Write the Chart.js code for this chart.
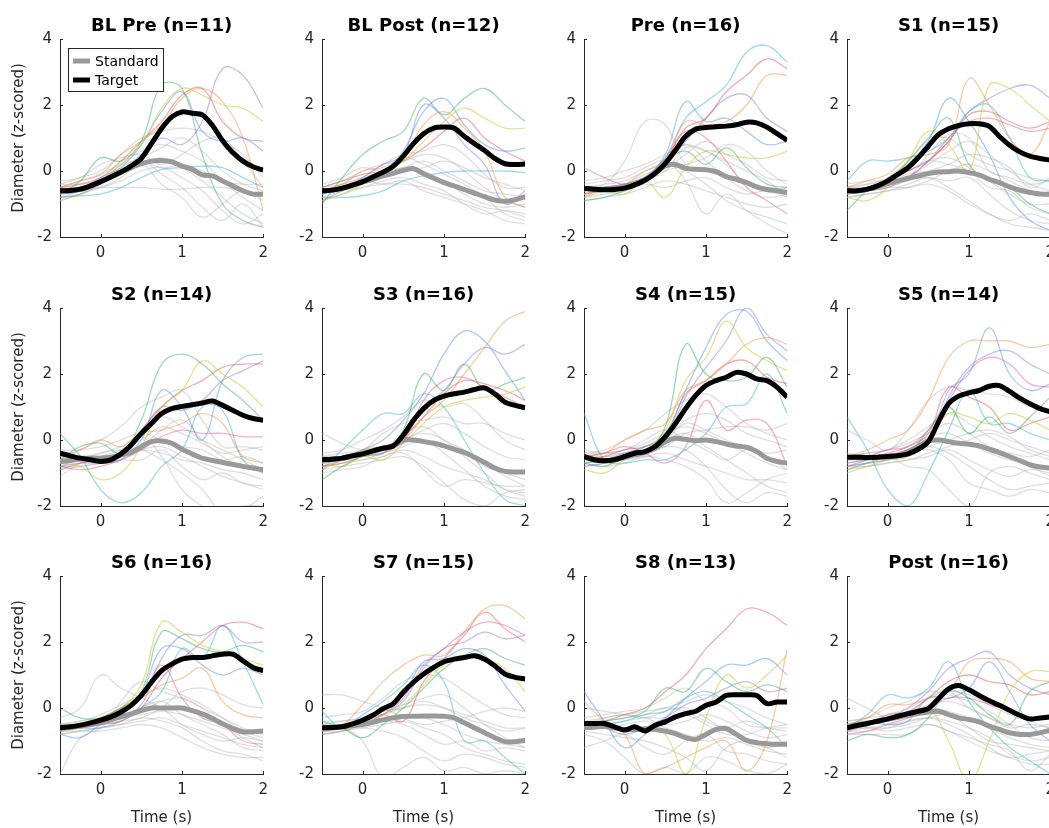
<!DOCTYPE html>
<html>
<head>
<meta charset="utf-8">
<script src="https://cdn.jsdelivr.net/npm/chart.js@4.4.1/dist/chart.umd.min.js"></script>
<style>
  html, body { margin: 0; padding: 0; background: #fff; overflow: hidden; }
  #wrap { position: relative; width: 1049px; height: 828px; overflow: hidden; }
  #wrap canvas { position: absolute; }
</style>
</head>
<body>
<div id="wrap"></div>
<script>
// time axes (s)
const meanTimes = [-0.5, -0.375, -0.25, -0.125, 0, 0.125, 0.25, 0.375, 0.5, 0.625, 0.75, 0.875, 1, 1.125, 1.25, 1.375, 1.5, 1.625, 1.75, 1.875, 2];
const trialTimes = [-0.5, -0.25, 0, 0.25, 0.5, 0.75, 1, 1.25, 1.5, 1.75, 2];
const xTickValues = [0, 1, 2];
const yTickValues = [-2, 0, 2, 4];

const panelTitles = ['BL Pre (n=11)', 'BL Post (n=12)', 'Pre (n=16)', 'S1 (n=15)', 'S2 (n=14)', 'S3 (n=16)',
  'S4 (n=15)', 'S5 (n=14)', 'S6 (n=16)', 'S7 (n=15)', 'S8 (n=13)', 'Post (n=16)'];

// grand means
const blPreTarget = [-0.6,-0.59,-0.55,-0.45,-0.32,-0.18,-0.03,0.15,0.38,0.83,1.29,1.64,1.79,1.75,1.7,1.38,0.92,0.56,0.3,0.13,0.03];
const blPreStandard = [-0.6,-0.59,-0.55,-0.45,-0.32,-0.18,-0.04,0.1,0.22,0.3,0.32,0.28,0.15,0.05,-0.12,-0.15,-0.3,-0.45,-0.6,-0.7,-0.7];
const blPostTarget = [-0.6,-0.58,-0.52,-0.43,-0.32,-0.18,-0.04,0.14,0.45,0.83,1.13,1.3,1.33,1.3,1.05,0.83,0.62,0.38,0.22,0.2,0.21];
const blPostStandard = [-0.6,-0.58,-0.52,-0.43,-0.33,-0.25,-0.15,-0.07,0.02,0.07,-0.08,-0.22,-0.35,-0.45,-0.56,-0.67,-0.78,-0.88,-0.92,-0.87,-0.78];
const preTarget = [-0.52,-0.55,-0.57,-0.56,-0.52,-0.42,-0.28,-0.07,0.23,0.63,1.05,1.27,1.32,1.34,1.36,1.4,1.48,1.46,1.33,1.13,0.93];
const preStandard = [-0.52,-0.55,-0.55,-0.52,-0.47,-0.38,-0.25,-0.07,0.15,0.2,0.08,0.05,0.04,-0.02,-0.17,-0.25,-0.35,-0.48,-0.56,-0.6,-0.65];
const s1Target = [-0.6,-0.6,-0.55,-0.45,-0.3,-0.1,0.1,0.4,0.75,1.1,1.28,1.38,1.43,1.43,1.35,1.05,0.78,0.58,0.45,0.38,0.33];
const s1Standard = [-0.6,-0.6,-0.55,-0.48,-0.38,-0.3,-0.22,-0.15,-0.08,-0.03,-0.02,0.0,-0.05,-0.12,-0.25,-0.35,-0.48,-0.58,-0.65,-0.7,-0.7];
const s2Target = [-0.4,-0.48,-0.55,-0.6,-0.65,-0.6,-0.42,-0.15,0.2,0.5,0.8,0.95,1.02,1.07,1.12,1.18,1.05,0.9,0.75,0.65,0.6];
const s2Standard = [-0.65,-0.62,-0.58,-0.55,-0.55,-0.52,-0.45,-0.38,-0.2,-0.05,-0.03,-0.1,-0.28,-0.42,-0.55,-0.62,-0.68,-0.74,-0.8,-0.85,-0.9];
const s3Target = [-0.6,-0.58,-0.55,-0.48,-0.42,-0.33,-0.25,-0.18,0.15,0.6,0.95,1.2,1.33,1.4,1.45,1.53,1.58,1.4,1.15,1.05,0.98];
const s3Standard = [-0.6,-0.58,-0.55,-0.48,-0.42,-0.35,-0.25,-0.18,0.0,0.0,-0.05,-0.1,-0.18,-0.28,-0.38,-0.52,-0.68,-0.85,-0.95,-0.97,-0.97];
const s4Target = [-0.5,-0.6,-0.63,-0.6,-0.5,-0.4,-0.35,-0.2,0.1,0.5,0.95,1.35,1.65,1.8,1.9,2.05,2.0,1.85,1.8,1.6,1.3];
const s4Standard = [-0.5,-0.6,-0.63,-0.6,-0.52,-0.45,-0.38,-0.25,-0.05,0.05,0.02,-0.02,0.0,-0.05,-0.12,-0.18,-0.22,-0.35,-0.55,-0.65,-0.7];
const s5Target = [-0.52,-0.52,-0.53,-0.52,-0.5,-0.48,-0.42,-0.28,-0.05,0.55,1.1,1.33,1.43,1.5,1.63,1.65,1.47,1.27,1.1,0.95,0.85];
const s5Standard = [-0.52,-0.52,-0.53,-0.52,-0.5,-0.45,-0.35,-0.2,-0.03,0.0,-0.05,-0.1,-0.13,-0.18,-0.28,-0.38,-0.5,-0.62,-0.75,-0.82,-0.85];
const s6Target = [-0.6,-0.57,-0.52,-0.45,-0.37,-0.27,-0.12,0.08,0.38,0.78,1.13,1.33,1.48,1.53,1.53,1.58,1.63,1.63,1.43,1.23,1.13];
const s6Standard = [-0.6,-0.58,-0.53,-0.48,-0.42,-0.35,-0.27,-0.18,-0.08,0.0,0.0,0.0,0.0,-0.08,-0.18,-0.32,-0.48,-0.62,-0.72,-0.72,-0.7];
const s7Target = [-0.6,-0.59,-0.57,-0.48,-0.37,-0.22,-0.02,0.13,0.48,0.78,1.03,1.23,1.4,1.48,1.53,1.58,1.48,1.28,1.03,0.93,0.88];
const s7Standard = [-0.6,-0.6,-0.57,-0.53,-0.5,-0.43,-0.36,-0.3,-0.26,-0.25,-0.24,-0.24,-0.25,-0.3,-0.45,-0.6,-0.75,-0.9,-1.02,-1.02,-0.98];
const s8Target = [-0.47,-0.47,-0.47,-0.57,-0.67,-0.57,-0.7,-0.52,-0.42,-0.27,-0.17,-0.1,0.08,0.18,0.38,0.4,0.4,0.38,0.13,0.18,0.18];
const s8Standard = [-0.6,-0.58,-0.55,-0.6,-0.65,-0.65,-0.63,-0.65,-0.7,-0.78,-0.9,-0.95,-0.8,-0.65,-0.62,-0.8,-0.98,-1.05,-1.08,-1.1,-1.1];
const postTarget = [-0.6,-0.53,-0.47,-0.4,-0.33,-0.25,-0.17,-0.1,-0.02,0.28,0.58,0.68,0.55,0.38,0.22,0.08,-0.07,-0.22,-0.33,-0.3,-0.27];
const postStandard = [-0.6,-0.53,-0.47,-0.4,-0.34,-0.28,-0.22,-0.17,-0.12,-0.1,-0.2,-0.3,-0.35,-0.42,-0.55,-0.65,-0.75,-0.8,-0.8,-0.75,-0.68];

// single subject traces (target = coloured, standard = grey)
const blPreTargetTrials = [
  [-0.7,-0.3,0.4,0.3,0.9,2.6,2.5,0.5,-1.0,-1.5,-1.7],
  [-0.9,-0.7,-0.3,0.2,0.8,1.9,2.5,2.3,2.0,1.9,1.5],
  [-0.5,-0.3,-0.1,0.5,0.9,1.4,2.2,2.5,2.1,1.0,-1.2],
  [-0.7,-0.6,-0.2,0.1,0.8,1.8,2.4,1.2,0.9,1.0,0.6],
  [-0.5,-0.4,-0.2,0.3,0.9,1.5,2.3,2.5,1.5,1.0,0.9],
  [-0.8,-0.7,-0.4,0.0,0.5,1.0,0.8,1.5,3.1,2.9,1.9],
  [-0.8,-0.75,-0.7,-0.5,-0.2,0.05,0.1,0.15,0.1,-0.2,-0.5]
];
const blPreStandardTrials = [
  [-0.4,-0.2,0.0,0.5,1.0,1.2,1.3,1.2,0.9,0.5,-0.2],
  [-0.6,-0.5,-0.3,0.1,0.3,-0.1,-0.5,-1.1,-1.5,-1.0,-1.7],
  [-0.5,-0.5,-0.5,-0.5,-0.5,-0.55,-0.55,-0.5,-0.5,-0.6,-0.7],
  [-0.8,-0.6,-0.3,0.2,0.6,0.8,0.6,0.3,-0.3,-0.8,-1.2],
  [-0.3,-0.2,0.2,0.4,0.5,0.2,0.5,0.9,1.0,0.3,-0.5],
  [-0.9,-0.7,-0.5,-0.2,0.2,-0.4,-0.8,-1.4,-1.0,-0.6,-0.9],
  [-0.7,-0.6,-0.4,-0.1,0.2,0.4,0.1,-0.3,-0.8,-1.3,-1.6],
  [-0.4,-0.4,-0.3,0.0,0.4,0.7,1.0,0.6,0.0,-0.4,-0.6],
  [-0.6,-0.6,-0.5,-0.3,0.0,0.1,-0.2,-0.6,-1.2,-1.6,-1.3],
  [-0.5,-0.3,-0.1,0.2,0.3,0.1,0.2,0.0,-0.3,-0.4,-0.4]
];
const blPostTargetTrials = [
  [-1.0,-0.2,0.5,0.9,1.2,2.2,1.7,2.2,2.5,2.0,1.5],
  [-0.9,-0.7,-0.4,-0.1,0.3,0.9,1.5,1.9,1.6,1.3,1.3],
  [-0.6,-0.4,0.0,0.1,0.4,1.4,1.8,1.3,0.6,-0.8,-1.1],
  [-0.7,-0.5,-0.3,0.0,0.6,1.8,2.2,1.4,0.8,0.6,0.7],
  [-0.5,-0.3,-0.1,0.0,0.3,0.7,1.2,1.6,1.0,0.6,0.3],
  [-0.9,-0.6,-0.2,0.2,0.5,2.0,1.6,0.8,0.2,-1.0,-0.6],
  [-0.8,-0.8,-0.75,-0.6,-0.3,-0.15,-0.05,0.0,0.0,0.0,-0.05]
];
const blPostStandardTrials = [
  [-0.5,-0.3,0.0,0.2,0.3,0.5,0.4,0.0,-0.5,-0.9,-1.1],
  [-0.7,-0.5,-0.3,-0.4,-0.3,-0.6,-0.8,-1.0,-1.2,-1.5,-1.6],
  [-0.4,-0.2,0.1,0.0,0.1,0.3,0.0,-0.3,-0.6,-0.7,-0.8],
  [-0.9,-0.7,-0.5,-0.3,-0.2,-0.4,-0.6,-1.0,-1.3,-1.2,-1.3],
  [-0.6,-0.4,-0.2,0.2,0.5,0.6,0.8,0.5,-0.1,-0.5,-0.5],
  [-0.8,-0.6,-0.4,-0.1,0.1,0.0,-0.3,-0.7,-1.0,-1.1,-1.0],
  [-0.5,-0.4,-0.2,0.0,0.4,0.2,-0.1,-0.4,-0.8,-1.3,-1.5],
  [-0.6,-0.5,-0.4,-0.2,0.0,0.1,0.3,0.1,-0.2,-0.4,-0.6],
  [-0.7,-0.6,-0.5,-0.4,-0.4,-0.5,-0.7,-0.9,-1.1,-1.2,-1.4]
];
const preTargetTrials = [
  [-0.9,-0.8,-0.6,-0.3,0.3,0.6,0.2,0.7,0.1,-0.4,-0.5],
  [-0.7,-0.6,-0.7,-0.3,-0.8,0.1,0.6,0.5,0.4,0.4,0.6],
  [-0.8,-0.5,-0.4,0.0,0.3,1.5,1.4,1.5,2.0,2.9,2.9],
  [-0.7,-0.5,-0.4,-0.2,0.5,2.1,1.5,1.6,1.2,0.8,0.9],
  [-0.7,-0.6,-0.5,-0.2,0.3,1.3,1.6,2.4,2.9,3.4,3.1],
  [-0.6,-0.6,-0.5,-0.3,0.2,0.9,1.6,2.2,2.3,1.6,1.2],
  [-0.6,-0.5,-0.4,-0.2,0.4,1.6,2.1,2.6,3.6,3.8,3.3],
  [0.1,-0.2,-0.4,-0.2,0.4,1.2,1.0,0.3,-0.5,-0.9,-1.3]
];
const preStandardTrials = [
  [-0.6,-0.4,0.3,1.5,1.4,0.2,0.0,-0.2,-0.4,-0.5,-0.6],
  [-0.8,-0.6,-0.5,-0.3,0.0,0.7,0.6,0.3,0.0,-0.3,-0.8],
  [-0.4,-0.3,-0.2,0.1,0.3,-0.3,-1.3,-0.7,-1.2,-1.6,-1.9],
  [-0.6,-0.5,-0.4,-0.2,0.0,0.2,0.4,0.8,0.6,0.0,-0.4],
  [-0.9,-0.8,-0.7,-0.5,-0.3,-0.4,-0.6,-0.8,-1.0,-1.1,-1.0],
  [-0.3,-0.2,0.0,0.2,0.5,0.8,0.6,0.2,-0.4,-0.6,-0.5],
  [-0.7,-0.6,-0.5,-0.3,0.3,0.8,0.3,-0.2,-0.6,-0.8,-0.7],
  [-0.5,-0.4,-0.3,0.0,0.2,0.0,-0.4,-0.9,-1.2,-1.4,-1.6],
  [-0.6,-0.5,-0.4,-0.1,0.1,0.5,0.9,0.5,0.2,-0.2,-0.3],
  [-0.8,-0.7,-0.6,-0.4,-0.5,-0.3,-0.2,-0.5,-0.7,-0.6,-0.8]
];
const s1TargetTrials = [
  [-1.2,-0.6,-0.3,0.3,1.0,1.6,0.2,-0.3,-0.5,-1.0,-1.3],
  [-0.8,-0.9,-0.5,0.3,1.2,0.8,0.0,2.6,2.5,2.0,1.5],
  [-0.5,-0.3,-0.1,0.4,0.5,0.8,2.8,2.0,1.0,0.5,1.5],
  [-0.6,-0.5,-0.3,0.2,0.9,2.2,1.5,0.5,-0.8,-1.5,-1.8],
  [-0.6,-0.5,-0.3,0.0,0.3,0.9,1.7,1.8,1.5,1.3,1.5],
  [-0.7,-0.6,-0.4,-0.2,0.3,0.9,1.8,2.2,2.5,2.6,2.2],
  [-0.3,0.3,0.3,0.4,0.6,1.0,1.8,2.0,1.0,-0.2,-0.3],
  [-0.6,-0.6,-0.5,-0.2,0.3,1.0,1.5,1.6,1.4,1.2,1.3]
];
const s1StandardTrials = [
  [-0.5,-0.4,-0.2,0.3,0.9,1.0,0.5,0.2,0.0,-0.2,-0.3],
  [-0.6,-0.6,-0.5,-0.5,-0.4,-0.6,-1.0,-1.3,-1.6,-1.7,-1.8],
  [-0.7,-0.5,-0.3,0.0,0.3,0.2,0.0,-0.5,-0.6,-1.1,-1.3],
  [-0.4,-0.3,-0.3,-0.1,0.0,0.2,0.5,0.4,0.1,-0.5,-0.2],
  [-0.8,-0.7,-0.6,-0.4,-0.2,-0.3,-0.2,-0.7,-1.2,-1.5,-1.6],
  [-0.5,-0.5,-0.4,-0.2,0.5,1.1,1.0,0.0,-0.2,-0.4,-0.3],
  [-0.6,-0.5,-0.4,-0.2,0.2,0.6,0.9,0.5,0.0,-0.4,-0.6],
  [-0.7,-0.6,-0.5,-0.3,-0.2,-0.5,-0.9,-1.3,-1.5,-1.3,-1.5],
  [-0.5,-0.4,-0.3,0.0,0.3,0.4,0.1,-0.3,-0.7,-1.0,-1.0],
  [-0.8,-0.7,-0.6,-0.5,-0.3,0.0,0.2,0.0,-0.3,-0.6,-0.8]
];
const s2TargetTrials = [
  [-0.6,-0.2,-0.1,-0.4,0.6,2.3,2.6,2.3,1.7,1.2,0.6],
  [-0.7,-0.8,-1.2,-1.0,-0.2,1.0,1.5,2.4,2.0,1.6,1.0],
  [-0.5,-0.3,0.0,-0.2,0.2,0.3,0.5,0.8,0.5,-0.5,-0.7],
  [-0.8,-0.6,-0.7,-0.5,0.0,1.5,1.0,0.0,1.8,2.5,2.6],
  [-0.9,-0.7,-0.6,-0.4,0.3,1.0,1.5,1.8,2.2,2.3,2.3],
  [-0.8,-0.7,-0.7,-0.6,0.2,1.0,0.9,1.2,1.8,2.1,2.4],
  [0.2,-0.5,-1.5,-1.9,-1.6,-0.8,-0.3,1.0,0.9,-0.6,-1.0],
  [-0.8,-0.9,-0.8,-0.6,-0.3,0.1,0.3,0.2,0.2,0.1,0.1]
];
const s2StandardTrials = [
  [-0.6,-0.3,0.0,0.4,1.0,1.3,1.5,0.6,-0.2,-0.2,-0.3],
  [-1.1,-0.7,-0.4,-0.3,-0.3,-0.6,-1.0,-1.5,-2.2,-2.1,-1.7],
  [-0.8,-0.8,-0.7,-0.6,-0.6,-0.3,-0.8,-1.2,-1.0,-1.3,-1.4],
  [-0.3,-0.3,-0.2,0.0,0.2,0.0,-0.2,-0.3,-0.6,-0.5,-0.7],
  [-0.5,-0.5,-0.4,-0.2,0.1,-0.5,-1.5,-2.0,-2.2,-2.0,-2.0],
  [-0.6,-0.6,-0.5,-0.3,0.0,0.4,0.2,-0.1,-0.4,-0.3,-0.2],
  [-0.7,-0.6,-0.6,-0.5,-0.2,0.3,0.6,0.0,-0.5,-0.8,-1.0],
  [-0.4,-0.5,-0.6,-0.6,-0.3,-0.2,-0.5,-0.8,-1.1,-1.3,-1.5],
  [-0.9,-0.8,-0.7,-0.5,0.3,0.7,0.4,0.0,-0.3,-0.6,-0.9],
  [-0.6,-0.5,-0.5,-0.4,-0.3,-0.4,-0.6,-0.7,-0.9,-1.0,-1.2]
];
const s3TargetTrials = [
  [-1.2,-0.8,-0.5,-0.4,0.3,2.0,1.5,2.3,1.5,1.7,1.9],
  [-0.7,-0.8,-0.5,-0.6,-0.1,0.5,1.0,1.2,1.3,1.4,1.6],
  [-0.9,-0.6,-0.3,-0.2,0.0,0.7,1.2,2.0,2.8,3.6,3.9],
  [-0.8,-0.6,-0.3,0.0,0.6,1.4,2.6,3.3,3.0,2.1,1.2],
  [-0.8,-0.7,-0.5,-0.3,0.1,0.7,1.4,1.8,1.7,1.5,1.2],
  [-0.7,-0.6,-0.4,-0.3,0.0,1.0,1.5,2.3,2.8,2.6,2.9],
  [-0.9,-0.3,0.3,0.8,0.8,1.4,1.0,0.0,-1.0,-1.8,-2.0],
  [-0.6,-0.5,-0.4,-0.4,0.0,1.2,1.8,1.9,1.6,1.3,1.0]
];
const s3StandardTrials = [
  [0.2,-0.1,-0.3,-0.2,0.0,0.2,0.0,-0.5,-1.0,-1.5,-1.7],
  [-0.9,-0.8,-0.7,-0.6,-0.5,-0.8,-1.3,-1.8,-2.0,-1.6,-1.5],
  [-0.5,-0.4,-0.3,0.2,0.5,0.6,0.7,0.5,0.5,0.2,0.0],
  [-0.7,-0.6,-0.5,-0.4,-0.2,0.0,-0.2,-0.4,-0.8,-1.0,-1.2],
  [-0.4,-0.3,0.0,0.3,0.7,1.2,1.0,1.1,0.6,0.0,-0.3],
  [-1.0,-0.9,-0.8,-0.5,-0.4,-0.9,-1.4,-1.2,-1.3,-1.4,-1.4],
  [-0.6,-0.5,-0.4,-0.3,0.2,0.4,0.0,-0.3,-0.7,-1.1,-1.4],
  [-0.8,-0.7,-0.6,-0.4,-0.1,0.0,-0.4,-0.9,-1.4,-1.7,-1.8],
  [-0.5,-0.5,-0.4,-0.2,0.0,0.3,0.5,0.2,-0.2,-0.5,-0.6],
  [-0.7,-0.6,-0.6,-0.5,-0.3,-0.5,-0.8,-1.0,-1.2,-1.5,-1.6]
];
const s4TargetTrials = [
  [-0.7,-0.8,-0.5,-0.4,0.4,2.9,2.0,1.8,1.9,2.5,1.6],
  [-0.9,-1.0,-0.6,-0.3,0.3,1.8,2.5,3.6,2.8,2.4,2.1],
  [-0.5,-0.4,0.0,0.3,0.5,1.5,1.8,2.3,2.9,3.1,2.9],
  [-0.7,-0.6,-0.4,-0.2,0.2,1.5,2.8,3.8,3.9,3.0,2.4],
  [-0.6,-0.5,-0.3,-0.2,0.1,1.4,1.8,2.3,2.4,1.9,1.7],
  [-0.8,-0.7,-0.5,-0.3,0.0,1.3,2.2,3.0,4.0,3.2,2.7],
  [0.8,-0.6,-0.7,-0.6,-0.6,-0.3,0.2,1.0,1.1,2.0,0.8],
  [-0.5,-0.4,-0.2,-0.4,-0.7,-0.2,1.2,0.3,0.6,0.5,-0.8]
];
const s4StandardTrials = [
  [-0.4,-0.3,0.0,0.3,0.8,1.2,1.4,1.0,0.5,0.2,0.0],
  [-0.7,-0.6,-0.5,-0.4,-0.2,-0.3,-0.8,-1.5,-1.9,-1.6,-1.7],
  [-0.6,-0.5,-0.5,-0.4,-0.2,0.2,0.3,0.4,0.4,0.3,0.5],
  [-0.8,-0.7,-0.6,-0.5,-0.4,-0.6,-0.8,-1.0,-1.2,-1.2,-1.3],
  [-0.5,-0.4,-0.3,0.0,0.3,0.0,-0.3,-0.6,-0.3,-0.5,-0.9],
  [-0.3,-0.4,-0.4,-0.3,0.0,0.5,0.3,0.0,-0.2,-0.4,-0.3],
  [-0.6,-0.6,-0.5,-0.3,0.0,0.2,-0.2,-0.6,-1.0,-1.4,-1.6],
  [-0.5,-0.5,-0.4,-0.2,0.1,0.6,0.8,0.6,0.2,0.0,-0.2],
  [-0.7,-0.8,-0.7,-0.5,-0.6,-0.8,-1.2,-1.9,-1.6,-1.2,-1.0],
  [-0.4,-0.4,-0.3,-0.1,0.2,0.4,0.2,-0.1,-0.4,-0.7,-0.9]
];
const s5TargetTrials = [
  [-0.9,-0.7,-0.5,-0.4,0.3,1.0,0.2,0.7,0.2,0.7,1.3],
  [-1.0,-0.8,-0.6,-0.5,0.0,0.8,0.7,0.5,0.8,0.6,0.3],
  [-0.5,-0.3,0.0,0.3,1.2,2.5,3.0,3.0,3.0,2.8,2.9],
  [-0.7,-0.6,-0.5,-0.4,-0.1,1.5,2.0,3.4,2.0,1.5,1.7],
  [-0.8,-0.6,-0.4,-0.2,0.2,1.6,1.3,1.0,0.3,0.5,0.7],
  [-0.8,-0.7,-0.6,-0.4,0.0,1.3,2.2,2.6,2.7,2.3,2.0],
  [0.7,-0.3,-1.5,-2.0,-1.0,0.3,1.5,0.5,0.5,0.2,0.0],
  [-0.6,-0.5,-0.3,-0.2,0.3,1.2,2.1,2.5,2.3,1.7,1.6]
];
const s5StandardTrials = [
  [0.3,0.0,-0.3,0.3,1.2,1.6,1.5,1.4,1.3,1.0,0.9],
  [-0.6,-0.5,-0.6,-0.4,-0.3,-0.6,-1.3,-1.5,-1.7,-1.5,-1.6],
  [-0.4,-0.5,-0.5,-0.8,-0.9,-1.5,-2.0,-1.0,-0.8,-1.0,-1.2],
  [-0.8,-0.7,-0.6,-0.5,-0.2,0.0,0.2,0.3,0.1,-0.3,-0.5],
  [-0.5,-0.4,-0.3,-0.1,0.2,0.5,0.2,-0.2,-0.4,-0.5,-0.3],
  [-0.9,-0.8,-0.7,-0.6,-0.5,-0.3,-0.6,-0.9,-1.1,-0.9,-1.0],
  [-0.6,-0.6,-0.5,-0.3,0.1,0.2,-0.1,-0.4,-0.6,-0.8,-1.1],
  [-0.7,-0.6,-0.5,-0.4,-0.2,-0.4,-0.8,-1.2,-1.5,-1.4,-1.3],
  [-0.5,-0.4,-0.3,0.0,0.4,0.8,0.5,0.1,-0.2,-0.4,-0.6],
  [-0.8,-0.8,-0.7,-0.6,-0.4,-0.2,0.0,0.2,0.0,-0.2,-0.4]
];
const s6TargetTrials = [
  [0.0,-0.3,-0.3,0.0,0.5,2.3,2.1,1.8,1.7,1.9,1.7],
  [-0.7,-0.6,-0.3,0.0,0.7,2.6,2.3,1.9,1.7,1.5,1.3],
  [-0.6,-0.5,-0.3,0.0,0.3,0.7,0.9,1.2,0.2,-0.2,-0.3],
  [-0.8,-0.9,-0.5,-0.2,0.4,1.8,1.8,1.3,1.0,1.2,1.0],
  [-0.7,-0.6,-0.5,-0.4,0.0,0.9,1.5,2.0,2.5,2.6,2.4],
  [-0.6,-0.6,-0.5,-0.3,0.1,1.5,2.2,2.2,2.5,2.0,2.0],
  [-0.5,-0.6,-0.6,-0.4,0.0,0.5,1.8,1.5,2.5,1.4,0.1],
  [-0.6,-0.5,-0.3,0.0,0.3,1.3,0.3,-0.3,-0.5,-1.0,-1.1]
];
const s6StandardTrials = [
  [-0.3,0.0,1.0,0.6,0.3,0.0,-0.5,-0.8,-1.0,-0.9,-1.0],
  [-2.0,-0.9,-0.6,0.2,0.8,0.5,0.3,0.0,-0.3,-0.6,-0.8],
  [-0.6,-0.5,-0.5,-0.4,-0.3,0.0,0.5,0.6,0.4,0.1,0.0],
  [-0.8,-0.7,-0.7,-0.6,-0.5,-0.6,-0.9,-1.2,-1.4,-1.5,-1.5],
  [-0.5,-0.4,-0.3,-0.2,0.0,0.2,-0.2,-0.5,-0.8,-1.2,-1.3],
  [-0.7,-0.7,-0.6,-0.5,-0.4,-0.3,-0.5,-0.7,-0.9,-1.1,-1.2],
  [-0.6,-0.6,-0.5,-0.3,-0.1,0.2,0.3,0.0,-0.5,-0.9,-1.2],
  [-0.8,-0.7,-0.6,-0.5,-0.3,-0.4,-0.6,-1.0,-1.3,-1.4,-1.6],
  [-0.5,-0.4,-0.2,0.1,0.4,0.6,0.4,0.1,-0.3,-0.7,-0.9],
  [-0.7,-0.6,-0.5,-0.3,-0.2,-0.1,-0.2,-0.4,-0.6,-0.8,-1.0]
];
const s7TargetTrials = [
  [-0.4,-0.6,-0.9,-0.5,0.0,0.6,1.2,1.6,1.8,1.5,1.3],
  [-0.7,-0.7,-0.5,-0.2,0.1,0.7,1.3,1.6,1.5,1.2,0.5],
  [-0.6,-0.5,0.1,0.8,1.3,1.6,1.6,2.3,3.0,3.1,2.7],
  [-0.6,-0.5,-0.4,-0.1,0.4,1.4,1.5,1.8,1.6,0.7,-0.1],
  [-0.7,-0.6,-0.4,-0.2,-0.4,0.8,1.5,2.2,2.9,2.4,2.0],
  [-0.8,-0.7,-0.5,-0.2,0.2,1.2,1.8,2.0,2.3,2.1,2.2],
  [-0.1,-0.6,-0.2,0.2,0.7,1.3,0.8,-1.0,-1.0,-1.5,-2.0],
  [-0.7,-0.6,-0.5,-0.2,0.3,1.3,1.8,2.3,2.6,2.5,2.2]
];
const s7StandardTrials = [
  [0.4,0.4,0.2,0.0,-0.3,-0.5,-0.4,-0.3,-0.1,0.0,-0.1],
  [-0.6,-0.6,-1.0,-2.1,-1.8,-1.5,-1.9,-1.8,-2.0,-1.9,-2.0],
  [-0.3,-0.2,-0.1,0.3,0.8,1.0,0.9,0.5,0.1,-0.2,-0.3],
  [-0.8,-0.7,-0.6,-0.5,-0.4,-0.6,-0.8,-1.2,-1.4,-1.6,-1.7],
  [-0.5,-0.5,-0.4,-0.2,0.0,0.1,0.0,-0.2,-0.4,-0.6,-0.6],
  [-0.6,-0.5,-0.5,-0.4,-0.5,-0.8,-1.1,-1.0,-1.3,-1.2,-1.3],
  [-0.5,-0.4,-0.3,-0.1,0.1,0.3,0.4,0.0,-0.5,-0.9,-1.2],
  [-0.7,-0.6,-0.5,-0.4,-0.3,-0.3,-0.5,-0.8,-1.0,-1.1,-1.2],
  [-0.6,-0.6,-0.6,-0.7,-0.9,-1.3,-1.6,-1.4,-1.5,-1.7,-1.8],
  [-0.4,-0.4,-0.3,-0.1,0.0,0.2,0.0,-0.3,-0.5,-0.7,-0.6]
];
const s8TargetTrials = [
  [-0.6,-0.4,-0.3,-0.1,0.6,0.5,1.2,0.8,0.5,0.7,0.5],
  [-0.5,-0.6,-0.7,-0.6,-0.8,-2.0,-0.3,1.0,0.6,1.0,1.6],
  [0.2,-0.4,-0.8,-2.0,-1.8,-1.5,-1.2,-1.0,-1.9,-1.0,1.8],
  [0.5,-0.4,-1.2,-0.8,-0.3,0.3,0.8,1.3,1.3,1.5,1.0],
  [-0.5,-0.4,-0.2,0.0,0.5,1.0,1.8,2.4,3.0,2.9,2.5],
  [-0.4,-0.6,-0.8,-0.6,-0.3,0.1,0.3,0.6,0.8,0.5,0.6],
  [-0.6,-0.5,-0.4,-0.2,-0.1,0.3,0.5,0.2,-0.2,-0.6,-1.2]
];
const s8StandardTrials = [
  [-0.5,-0.3,-0.2,-0.1,0.0,0.2,0.4,0.2,0.0,-0.3,-0.5],
  [-1.2,-1.0,-0.8,-1.2,-1.4,-1.0,-0.8,-1.3,-1.4,-1.6,-1.7],
  [-0.3,-0.2,-0.1,0.0,0.3,0.6,0.2,0.0,-0.5,-0.6,-0.6],
  [-0.8,-1.0,-1.5,-2.0,-1.8,-2.0,-1.5,-1.6,-1.9,-2.0,-1.7],
  [-0.6,-0.5,-0.4,-0.3,-0.3,-0.2,-0.5,-0.8,-0.8,-0.6,-0.5],
  [0.0,-0.1,-0.2,-0.3,-0.1,0.0,-0.3,-0.7,-1.0,-1.2,-1.0],
  [-0.6,-0.6,-0.5,-0.4,-0.6,-0.8,-1.0,-0.9,-1.1,-1.3,-1.4],
  [-0.4,-0.3,-0.2,-0.3,-0.5,-0.4,-0.2,-0.4,-0.7,-0.9,-0.8],
  [-0.7,-0.8,-0.9,-1.0,-1.2,-1.5,-1.9,-1.2,-1.0,-1.2,-1.5],
  [-0.5,-0.4,-0.3,-0.2,0.0,-0.1,-0.4,-0.6,-0.4,-0.6,-0.7]
];
const postTargetTrials = [
  [-1.0,-0.8,-0.9,-0.8,-0.3,0.5,0.3,-0.2,-0.5,0.5,0.8],
  [-0.6,-0.5,-0.3,-0.2,0.0,-1.0,-2.2,-1.0,0.5,1.1,1.1],
  [-0.5,-0.3,0.1,0.1,0.3,0.5,1.4,1.5,1.4,0.9,0.8],
  [-0.5,-0.4,-0.5,-0.4,0.3,0.3,0.6,1.4,0.5,-0.5,-1.0],
  [-0.6,-0.5,-0.2,-0.1,0.3,0.8,1.0,0.8,0.7,0.4,0.5],
  [-0.7,-0.5,-0.3,0.0,0.5,1.2,1.5,1.7,1.0,0.6,0.4],
  [-0.6,-0.2,0.4,0.3,0.6,1.4,0.2,-0.6,-1.2,-1.6,-2.0],
  [-0.8,-0.7,-0.5,-0.3,0.0,0.3,0.3,0.1,-0.1,-0.3,-0.2]
];
const postStandardTrials = [
  [0.3,0.0,-0.3,-0.2,0.3,0.5,0.0,-0.3,-0.5,-0.6,-0.5],
  [-0.6,-0.6,-0.7,-0.6,-0.5,-0.7,-1.0,-1.3,-1.5,-1.7,-1.7],
  [-0.4,-0.3,0.0,0.2,0.5,0.4,0.2,-0.1,-0.5,-0.9,-1.0],
  [-0.8,-0.8,-0.8,-0.8,-0.5,-0.7,-0.9,-1.1,-1.3,-1.9,-1.4],
  [-0.5,-0.4,-0.3,-0.2,0.1,0.2,0.0,-0.3,-0.6,-0.5,-0.6],
  [-0.7,-0.6,-0.6,-0.4,-0.3,-0.2,-0.6,-1.0,-1.1,-1.2,-1.3],
  [-0.5,-0.5,-0.4,-0.2,0.0,-0.1,-0.3,-0.6,-0.9,-1.1,-1.2],
  [-0.7,-0.7,-0.6,-0.5,-0.3,-0.4,-0.6,-0.9,-1.4,-1.6,-1.5],
  [-0.4,-0.3,-0.2,0.0,0.3,0.5,0.4,0.1,-0.2,-0.4,-0.6],
  [-0.6,-0.6,-0.5,-0.4,-0.3,-0.5,-0.8,-1.2,-1.5,-1.4,-1.3]
];

const panels = [
  [blPreTarget, blPreStandard, blPreTargetTrials, blPreStandardTrials],
  [blPostTarget, blPostStandard, blPostTargetTrials, blPostStandardTrials],
  [preTarget, preStandard, preTargetTrials, preStandardTrials],
  [s1Target, s1Standard, s1TargetTrials, s1StandardTrials],
  [s2Target, s2Standard, s2TargetTrials, s2StandardTrials],
  [s3Target, s3Standard, s3TargetTrials, s3StandardTrials],
  [s4Target, s4Standard, s4TargetTrials, s4StandardTrials],
  [s5Target, s5Standard, s5TargetTrials, s5StandardTrials],
  [s6Target, s6Standard, s6TargetTrials, s6StandardTrials],
  [s7Target, s7Standard, s7TargetTrials, s7StandardTrials],
  [s8Target, s8Standard, s8TargetTrials, s8StandardTrials],
  [postTarget, postStandard, postTargetTrials, postStandardTrials]
];

// trace colours in the order the trials are listed
const trialColors = ['rgba(40,170,90,0.45)', 'rgba(200,200,40,0.5)', 'rgba(240,140,50,0.45)', 'rgba(70,140,230,0.45)',
  'rgba(230,70,80,0.45)', 'rgba(130,110,230,0.45)', 'rgba(40,175,210,0.45)', 'rgba(230,80,150,0.45)'];
const greyTrialColor = 'rgba(175,175,175,0.4)';
const axisColor = '#262626';

Chart.defaults.font.family = '"DejaVu Sans", sans-serif';
Chart.defaults.font.size = 15;
Chart.defaults.color = axisColor;

const colLeft = [0, 262, 524, 787];
const rowTop = [0, 269, 537];
const rowHeight = [269, 268, 291];
const plotTop = 39, plotHeight = 198, canvasWidth = 275;

const toPoints = (times, values) => values.map((y, i) => ({ x: times[i], y }));

// titles, inward tick marks and the legend box (MATLAB look)
const panelDecor = {
  id: 'panelDecor',
  afterDatasetsDraw(chart, args, opts) {
    const { ctx, chartArea } = chart;
    const xs = chart.scales.x, ys = chart.scales.y;
    ctx.save();
    ctx.strokeStyle = axisColor;
    ctx.lineWidth = 1;
    ctx.beginPath();
    xTickValues.forEach(v => {
      const px = Math.round(xs.getPixelForValue(v)) + 0.5;
      ctx.moveTo(px, chartArea.bottom);
      ctx.lineTo(px, chartArea.bottom - 3);
    });
    yTickValues.forEach(v => {
      const py = Math.round(ys.getPixelForValue(v)) + 0.5;
      ctx.moveTo(chartArea.left, py);
      ctx.lineTo(chartArea.left + 3, py);
    });
    ctx.stroke();

    ctx.fillStyle = '#000';
    ctx.font = 'bold 18px "DejaVu Sans", sans-serif';
    ctx.textAlign = 'center';
    ctx.textBaseline = 'alphabetic';
    ctx.fillText(opts.title, (chartArea.left + chartArea.right) / 2, chartArea.top - 8);

    if (opts.legend) {
      const bx = chartArea.left + 8, by = chartArea.top + 9, bw = 95, bh = 43;
      ctx.fillStyle = '#fff';
      ctx.fillRect(bx, by, bw, bh);
      ctx.strokeStyle = axisColor;
      ctx.strokeRect(bx + 0.5, by + 0.5, bw, bh);
      const items = ['Standard', 'Target'].map(l => chart.data.datasets.find(d => d.label === l));
      items.forEach((d, i) => {
        const y = by + 13 + i * 19;
        ctx.strokeStyle = d.borderColor;
        ctx.lineWidth = d.borderWidth;
        ctx.beginPath();
        ctx.moveTo(bx + 5, y);
        ctx.lineTo(bx + 22, y);
        ctx.stroke();
        ctx.fillStyle = '#000';
        ctx.font = '14px "DejaVu Sans", sans-serif';
        ctx.textAlign = 'left';
        ctx.textBaseline = 'middle';
        ctx.fillText(d.label, bx + 27, y + 1);
      });
    }
    ctx.restore();
  }
};

const wrap = document.getElementById('wrap');

panels.forEach((p, idx) => {
  const [target, standard, targetTrials, standardTrials] = p;
  const col = idx % 4, row = Math.floor(idx / 4);
  const canvas = document.createElement('canvas');
  canvas.width = canvasWidth;
  canvas.height = rowHeight[row];
  canvas.style.left = colLeft[col] + 'px';
  canvas.style.top = rowTop[row] + 'px';
  wrap.appendChild(canvas);

  const datasets = [
    { label: 'Target', data: toPoints(meanTimes, target), borderColor: '#000', borderWidth: 5, tension: 0.3 },
    { label: 'Standard', data: toPoints(meanTimes, standard), borderColor: '#999999', borderWidth: 5, tension: 0.3 }
  ];
  targetTrials.forEach((t, i) => datasets.push({
    label: 'trial', data: toPoints(trialTimes, t), borderColor: trialColors[i % trialColors.length], borderWidth: 1.3, tension: 0.4
  }));
  standardTrials.forEach(t => datasets.push({
    label: 'trial', data: toPoints(trialTimes, t), borderColor: greyTrialColor, borderWidth: 1.3, tension: 0.4
  }));
  datasets.forEach(d => { d.pointRadius = 0; d.fill = false; d.clip = 0; d.borderJoinStyle = 'round'; });

  const xHeight = rowHeight[row] - plotTop - plotHeight;

  new Chart(canvas, {
    type: 'line',
    data: { datasets },
    plugins: [panelDecor],
    options: {
      responsive: false,
      animation: false,
      devicePixelRatio: 1,
      layout: { padding: { top: plotTop, left: 0, right: 10, bottom: 0 } },
      plugins: {
        legend: { display: false },
        tooltip: { enabled: false },
        panelDecor: { title: panelTitles[idx], legend: idx === 0 }
      },
      scales: {
        x: {
          type: 'linear', min: -0.5, max: 2,
          afterBuildTicks: s => { s.ticks = xTickValues.map(v => ({ value: v })); },
          afterFit: s => { s.height = xHeight; },
          grid: { display: false, drawTicks: false },
          border: { display: true, color: axisColor, width: 1 },
          ticks: { padding: 7, color: axisColor, font: { size: 15 } },
          title: { display: row === 2, text: 'Time (s)', color: axisColor, font: { size: 15 }, padding: { top: 0, bottom: 1 } }
        },
        y: {
          type: 'linear', min: -2, max: 4,
          afterBuildTicks: s => { s.ticks = yTickValues.map(v => ({ value: v })); },
          afterFit: s => { s.width = 60; },
          grid: { display: false, drawTicks: false },
          border: { display: true, color: axisColor, width: 1 },
          ticks: { padding: 8, color: axisColor, font: { size: 15 } },
          title: { display: col === 0, text: 'Diameter (z-scored)', color: axisColor, font: { size: 15 }, padding: { top: 10, bottom: 0 } }
        }
      }
    }
  });
});
</script>
</body>
</html>
